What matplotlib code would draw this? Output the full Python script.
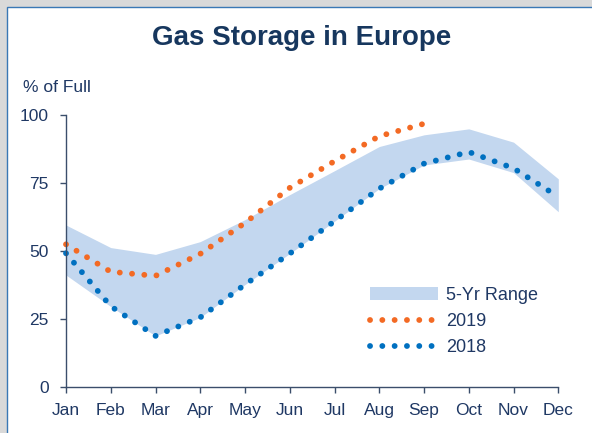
import matplotlib
matplotlib.use('Agg')
import matplotlib.pyplot as plt
from matplotlib.patches import Rectangle

plt.rcParams['font.family'] = ['Liberation Sans', 'DejaVu Sans']

months = ['Jan', 'Feb', 'Mar', 'Apr', 'May', 'Jun', 'Jul', 'Aug', 'Sep', 'Oct', 'Nov', 'Dec']
range_low = [41.1, 29.5, 18.7, 25.5, 37.6, 49.0, 60.9, 72.9, 81.6, 83.8, 78.8, 64.4]
range_high = [59.5, 51.2, 48.7, 53.4, 61.5, 70.7, 79.5, 88.4, 92.7, 94.9, 90.0, 76.5]
y2019 = [52.4, 42.3, 40.8, 48.9, 60.3, 73.2, 83.0, 92.2, 96.8]
y2018 = [49.1, 29.6, 18.7, 25.5, 37.6, 49.0, 60.9, 72.9, 82.1, 86.4, 80.4, 69.9]

text_col = '#1F3864'
axis_col = '#3B4E6B'
W, H = 592, 433

fig = plt.figure(figsize=(W / 100, H / 100), dpi=100, facecolor='#D9D9D9')
fig.patches.append(Rectangle((7 / W, -0.05), 1.0, 1 - 7 / H + 0.05, transform=fig.transFigure,
                             facecolor='white', edgecolor='#3A78B5', lw=1.0, zorder=-10))

ax = fig.add_axes([66 / W, 1 - 386.7 / H, (558.3 - 66) / W, (386.7 - 115) / H])
ax.set_facecolor('none')

x = list(range(len(months)))
dots = (0, (0.01, 2.1))
ax.fill_between(x, range_low, range_high, color='#C3D7EF', lw=0, label='5-Yr Range')
ax.plot(x[:len(y2019)], y2019, color='#F36A24', lw=4.2, linestyle=dots,
        dash_capstyle='round', clip_on=False, label='2019')
ax.plot(x, y2018, color='#0070C0', lw=4.2, linestyle=dots,
        dash_capstyle='round', clip_on=False, label='2018')

ax.set_xlim(0, 11)
ax.set_ylim(0, 100)
ax.set_xticks(x)
ax.set_xticklabels(months)
ax.set_yticks([0, 25, 50, 75, 100])
for s in ['top', 'right']:
    ax.spines[s].set_visible(False)
for s in ['left', 'bottom']:
    ax.spines[s].set_color(axis_col)
    ax.spines[s].set_linewidth(1.0)
ax.tick_params(direction='out', length=4.5, width=1, color=axis_col,
               labelsize=12.5, labelcolor=text_col)
ax.tick_params(axis='y', pad=8)
ax.tick_params(axis='x', pad=7)

leg = ax.legend(loc='upper left', bbox_to_anchor=(370 / W, 1 - 287 / H),
                bbox_transform=fig.transFigure, frameon=False, fontsize=13,
                handlelength=3.75, handletextpad=0.45, labelspacing=0.5,
                borderpad=0, borderaxespad=0)
for t in leg.get_texts():
    t.set_color(text_col)

fig.text(302 / W, 1 - 45 / H, 'Gas Storage in Europe', ha='center', va='baseline',
         fontsize=20, fontweight='bold', color='#17375E')
fig.text(23 / W, 1 - 91.7 / H, '% of Full', ha='left', va='baseline',
         fontsize=12.5, color=text_col)

fig.savefig('out.png', dpi=100, facecolor=fig.get_facecolor())
